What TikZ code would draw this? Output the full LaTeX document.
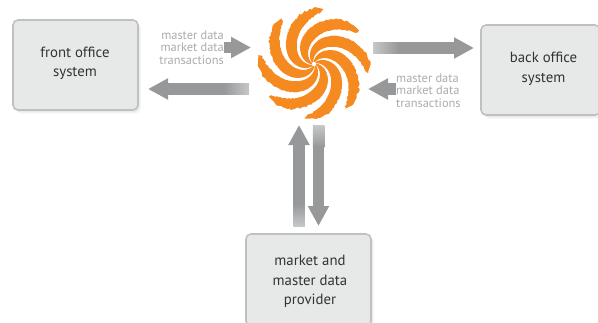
\documentclass[tikz,border=0pt]{standalone}
\usepackage{fontspec}
\setmainfont{PT Sans}
\usetikzlibrary{arrows.meta}
\definecolor{boxfill}{HTML}{E7E8E8}
\definecolor{boxline}{HTML}{BFC1C1}
\definecolor{flow}{HTML}{97989A}
\definecolor{flowlight}{HTML}{C6C7C9}
\definecolor{labelgrey}{HTML}{A9ABAD}
\definecolor{swirl}{HTML}{F58A20}
\tikzset{
  sysbox/.style={rectangle,rounded corners=5pt,fill=boxfill,draw=boxline,line width=1.6pt,
    inner sep=0pt,
    preaction={fill=black,opacity=.05,draw=none,transform canvas={shift={(1.5pt,-2pt)}}},
    preaction={fill=black,opacity=.04,draw=none,transform canvas={shift={(3pt,-3.5pt)}}}},
  boxtext/.style={align=center,font=\fontsize{14.8}{19.5}\selectfont,text=black!80,inner sep=0pt},
  datalabel/.style={inner sep=0pt,font=\fontsize{12.4}{12.5}\selectfont,text=labelgrey},
  flowarrow/.style={draw=flow,line width=11.5pt,-{Triangle[length=20pt,width=20pt]}},
  arm/.style={fill=swirl,draw=none},
  declare function={
    twist(\q)=105*(1-\q)+9*ln(1/\q);
    halfw(\q)=(17-max(0,\q-.45)*12)*min(1,sqrt(max(.04,(1.015-\q)/.09)));
    jit(\q)=\q*\q*\q*(rnd-.5)*3.2;
  }
}
\begin{document}
\begin{tikzpicture}[x=1pt,y=-1pt]
\useasboundingbox (0,0) rectangle (598,322);
\clip (0,0) rectangle (598,322);
\pgfmathsetseed{7}
% boxes
\node[sysbox,minimum width=125pt,minimum height=90pt] (front) at (75.5,65) {};
\node[boxtext] (fronttext) at (75,63.5) {front office\\system};
\node[sysbox,minimum width=119pt,minimum height=90pt] (back) at (540.5,70) {};
\node[boxtext] (backtext) at (543.5,69) {back office\\system};
\node[sysbox,minimum width=125pt,minimum height=92pt] (prov) at (308.5,280) {};
\node[boxtext] (provtext) at (310,281.5) {market and\\master data\\provider};
% swirl
\coordinate (hub) at (314,64);
\begin{scope}[shift={(hub)}]
\foreach \i in {0,...,7}{
  \pgfmathsetmacro{\az}{85-45*\i}
  \fill[arm] plot[samples=80,domain=.04:1,variable=\q]
     ({(56*\q+jit(\q))*cos(\az+twist(\q)+halfw(\q))},{-(56*\q+jit(\q))*sin(\az+twist(\q)+halfw(\q))})
     -- plot[samples=80,domain=1:.04,variable=\q]
     ({(56*\q+jit(\q))*cos(\az+twist(\q)-halfw(\q))},{-(56*\q+jit(\q))*sin(\az+twist(\q)-halfw(\q))}) -- cycle;
}
\end{scope}
% anchor points of the flows
\coordinate (a1) at (224,47.5); \coordinate (a2) at (251,47.5);
\coordinate (b1) at (249,89);   \coordinate (b2) at (148,89);
\coordinate (c1) at (373,48);   \coordinate (c2) at (474,48);
\coordinate (d1) at (396,89);   \coordinate (d2) at (368,89);
\coordinate (e1) at (299,226);  \coordinate (e2) at (299,125);
\coordinate (f1) at (318.5,125);\coordinate (f2) at (318.5,226);
\draw[flowarrow] (a1) -- (a2);
\draw[flowarrow] (b1) -- (b2);
\draw[flowarrow] (c1) -- (c2);
\draw[flowarrow] (d1) -- (d2);
\draw[flowarrow] (e1) -- (e2);
\draw[flowarrow] (f1) -- (f2);
% faded tails
\shade[left color=flowlight,right color=flow] (373,42.25) rectangle (398,53.75);
\shade[left color=flow,right color=flowlight] (224,83.25) rectangle (249,94.75);
\shade[top color=flow,bottom color=flowlight] (293.25,204) rectangle (304.75,226);
\shade[top color=flowlight,bottom color=flow] (312.75,125) rectangle (324.25,147);
% labels
\node[datalabel,align=right,anchor=east] (lab1) at (224,47.5) {master data\\market data\\transactions};
\node[datalabel,align=left,anchor=west] (lab2) at (396,90.5) {master data\\market data\\transactions};
\end{tikzpicture}
\end{document}
